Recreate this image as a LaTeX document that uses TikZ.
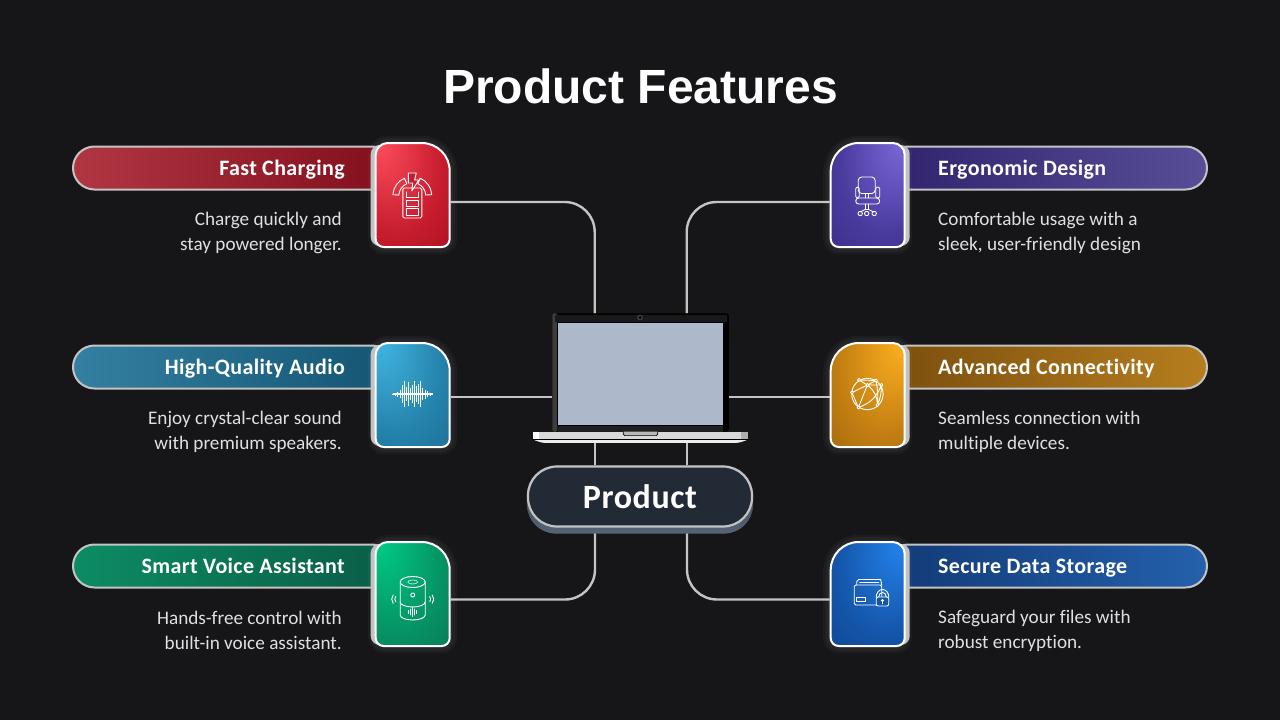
\documentclass[tikz,border=0pt]{standalone}
\usepackage{fontspec}
\setmainfont[Ligatures=NoCommon]{Carlito}
\newfontfamily\headfont[LetterSpace=1.7,Ligatures=NoCommon]{Carlito}
\newfontfamily\titlefont{Liberation Sans}
\usetikzlibrary{positioning,calc}

\definecolor{pagebg}{RGB}{22,21,23}
\definecolor{wirecol}{RGB}{196,196,196}
\definecolor{chargeA}{RGB}{255,78,92}  \definecolor{chargeB}{RGB}{198,28,46}  \definecolor{chargeC}{RGB}{146,8,20}
\definecolor{audioA}{RGB}{66,182,228}  \definecolor{audioB}{RGB}{36,130,170}  \definecolor{audioC}{RGB}{24,92,132}
\definecolor{voiceA}{RGB}{0,204,134}   \definecolor{voiceB}{RGB}{6,146,100}   \definecolor{voiceC}{RGB}{10,100,74}
\definecolor{chairA}{RGB}{124,104,218} \definecolor{chairB}{RGB}{72,58,156}   \definecolor{chairC}{RGB}{46,36,118}
\definecolor{linkA}{RGB}{255,176,32}   \definecolor{linkB}{RGB}{194,126,18}   \definecolor{linkC}{RGB}{134,86,10}
\definecolor{safeA}{RGB}{36,132,238}   \definecolor{safeB}{RGB}{20,86,170}    \definecolor{safeC}{RGB}{14,56,128}
\definecolor{badgecol}{RGB}{34,42,53}
\definecolor{badgeshadeA}{RGB}{50,60,74}
\definecolor{badgeshadeB}{RGB}{86,100,118}
\definecolor{screencol}{RGB}{174,184,203}

\pgfdeclareradialshading{chargeshade}{\pgfpoint{-24bp}{26bp}}{color(0bp)=(chargeA); color(32bp)=(chargeB); color(64bp)=(chargeC)}
\pgfdeclareradialshading{audioshade}{\pgfpoint{-24bp}{26bp}}{color(0bp)=(audioA); color(32bp)=(audioB); color(64bp)=(audioC)}
\pgfdeclareradialshading{voiceshade}{\pgfpoint{-24bp}{26bp}}{color(0bp)=(voiceA); color(32bp)=(voiceB); color(64bp)=(voiceC)}
\pgfdeclareradialshading{chairshade}{\pgfpoint{24bp}{26bp}}{color(0bp)=(chairA); color(32bp)=(chairB); color(64bp)=(chairC)}
\pgfdeclareradialshading{linkshade}{\pgfpoint{24bp}{26bp}}{color(0bp)=(linkA); color(32bp)=(linkB); color(64bp)=(linkC)}
\pgfdeclareradialshading{safeshade}{\pgfpoint{24bp}{26bp}}{color(0bp)=(safeA); color(32bp)=(safeB); color(64bp)=(safeC)}

\pgfdeclarelayer{pagelayer}
\pgfdeclarelayer{wirelayer}
\pgfsetlayers{pagelayer,wirelayer,main}

\tikzset{
  wire/.style={draw=wirecol,line width=2.4pt},
  pill/.style={draw=wirecol,line width=2pt,rounded corners=21.5pt,minimum width=320pt,minimum height=43pt,inner sep=0pt,outer sep=0pt},
  cardspot/.style={minimum width=76pt,minimum height=106pt,inner sep=0pt,outer sep=0pt},
  cardoutline/.style={insert path={(-37,0) [rounded corners=12pt] -- (-37,-52) [rounded corners=28pt] -- (37,-52) [rounded corners=8pt] -- (37,52) -- (-37,52) -- cycle}},
  iconline/.style={draw=white,line width=0.9pt,line join=round,line cap=round},
  headtext/.style={text=white,font=\headfont\fontsize{22}{25}\selectfont\bfseries,inner sep=0pt},
  bodytext/.style={text=white!88!black,font=\fontsize{19.2}{25}\selectfont,inner sep=0pt}
}

\newcommand{\cardbody}[4]{%
  \begin{scope}[shift={(#1,#2)},xscale=#3]
    \foreach \w in {15,10,5}
      \draw[white,opacity=0.03,line width=\w pt,cardoutline];
    \fill[white!76!black,rounded corners=9pt] (-42,-50) rectangle (-15,51);
    \draw[white,line width=2pt,shade,shading=#4,cardoutline];
  \end{scope}}

\begin{document}
\begin{tikzpicture}[x=1pt,y=-1pt]
  \begin{pgfonlayer}{pagelayer}
    \fill[pagebg] (0,0) rectangle (1280,720);
  \end{pgfonlayer}
  \useasboundingbox (0,0) rectangle (1280,720);

  \node[text=white,font=\titlefont\bfseries\fontsize{48}{50}\selectfont] (title) at (640.5,86) {Product Features};

  % left column
  \foreach \nm/\yy/\ttl/\lineA/\lineB/\colA/\colB in {
    charge/168/Fast Charging/Charge quickly and/stay powered longer./{176,54,66}/{130,14,28},
    audio/367/High-Quality Audio/Enjoy crystal-clear sound/with premium speakers./{52,128,162}/{20,84,114},
    voice/566/Smart Voice Assistant/Hands-free control with/built-in voice assistant./{12,140,100}/{10,92,70}}
  {
    \definecolor{pillA}{RGB}{\colA}
    \definecolor{pillB}{RGB}{\colB}
    \node[pill,left color=pillA,right color=pillB] (\nm pill) at (233,\yy) {};
    \node[headtext,anchor=base east] (\nm head) at (345,\yy+7) {\ttl};
    \node[bodytext,anchor=east,align=right] (\nm text) at (342,\yy+64.8) {\lineA\\\lineB};
  }

  % right column
  \foreach \nm/\yy/\ttl/\lineA/\lineB/\colA/\colB in {
    chair/168/Ergonomic Design/Comfortable usage with a/{sleek, user-friendly design}/{48,34,108}/{88,78,152},
    link/367/Advanced Connectivity/Seamless connection with/multiple devices./{122,78,14}/{182,126,30},
    safe/566/Secure Data Storage/Safeguard your files with/robust encryption./{18,58,118}/{36,96,172}}
  {
    \definecolor{pillA}{RGB}{\colA}
    \definecolor{pillB}{RGB}{\colB}
    \node[pill,left color=pillA,right color=pillB] (\nm pill) at (1047,\yy) {};
    \node[headtext,anchor=base west] (\nm head) at (938,\yy+7) {\ttl};
    \node[bodytext,anchor=west,align=left] (\nm text) at (938,\yy+65) {\lineA\\\lineB};
  }

  % cards
  \node[cardspot] (charge) at (412.7,195) {};
  \node[cardspot] (audio) at (412.7,395) {};
  \node[cardspot] (voice) at (412.7,594) {};
  \node[cardspot] (chair) at (867.7,195) {};
  \node[cardspot] (link) at (867.7,395) {};
  \node[cardspot] (safe) at (867.7,594) {};
  \cardbody{412.7}{195}{1}{chargeshade}
  \cardbody{412.7}{395}{1}{audioshade}
  \cardbody{412.7}{594}{1}{voiceshade}
  \cardbody{867.7}{195}{-1}{chairshade}
  \cardbody{867.7}{395}{-1}{linkshade}
  \cardbody{867.7}{594}{-1}{safeshade}

  % charging icon
  \begin{scope}[shift={(412.3,196)}]
    \draw[iconline,rounded corners=1.5pt] (-9.5,-8) rectangle (9.5,22);
    \draw[iconline] (-6,-4) -- (-6,1) -- (6,1) -- (6,-4);
    \draw[iconline] (-6,4) rectangle (6,10);
    \draw[iconline] (-6,12.5) rectangle (6,19.5);
    \foreach \s in {1,-1}
      \draw[iconline,xscale=\s] (-176:19.5) arc (-176:-114:19.5) -- (-114:13.5) arc (-114:-176:13.5) -- cycle;
    \draw[iconline,fill=chargeB] (-4,-23) -- (4,-23) -- (2.3,-16) -- (6.5,-16) -- (-0.5,-5) -- (0.5,-13) -- (-4,-13) -- cycle;
  \end{scope}

  % waveform icon
  \begin{scope}[shift={(412.7,394)}]
    \foreach \dx/\hh in {-20/0.5,-17.5/1.5,-15/2.5,-12.5/4,-10/9,-8/13,-6/7,-4/12,-2/6,0/9,2/13,4/8,6/10,8/13,10/6,12.5/4.5,15/3,17.5/1.5,20/0.5}
      \draw[white,line width=1.1pt] (\dx,-\hh) -- (\dx,\hh);
    \draw[white,line width=1.1pt] (-20,0) -- (20,0);
  \end{scope}

  % speaker icon
  \begin{scope}[shift={(412.7,594)}]
    \draw[iconline] (0,-12) ellipse (12.5 and 5.5);
    \draw[iconline] (-12.5,-12) -- (-12.5,21) arc (-180:-360:12.5 and 5) -- (12.5,-12);
    \draw[iconline] (-12.5,8) arc (-180:-360:12.5 and 5);
    \draw[iconline] (0,1) circle (2);
    \draw[iconline,opacity=0.7,dash pattern=on 1pt off 1pt] (0,-12) ellipse (5 and 2);
    \foreach \dx/\hh in {-4/1.5,-2/3,0/4.5,2/3,4/1.5}
      \draw[iconline] (\dx,18-\hh) -- (\dx,18+\hh);
    \foreach \s in {1,-1} {
      \begin{scope}[xscale=\s]
        \draw[iconline] (17,2.5) arc (-40:40:4);
        \draw[iconline] (19.5,1) arc (-40:40:6.5);
      \end{scope}
    }
  \end{scope}

  % chair icon
  \begin{scope}[shift={(867.7,195)}]
    \draw[iconline,rounded corners=3.5pt] (-9.5,-18) rectangle (7.5,-1.5);
    \draw[iconline] (-2.5,-1.5) -- (-2.5,3) (1,-1.5) -- (1,3);
    \draw[iconline,rounded corners=3pt] (-12,3) rectangle (12,9);
    \draw[iconline,rounded corners=1.5pt] (-12,-8) rectangle (-8.5,3);
    \draw[iconline,rounded corners=1.5pt] (8,-8) rectangle (12,3);
    \draw[iconline] (-2.5,9) -- (-2.5,14.5) (1,9) -- (1,14.5);
    \draw[iconline] (-7.5,17) -- (-2.5,14.5) -- (1,14.5) -- (6,17);
    \foreach \dx in {-7.5,-1,6.5}
      \draw[iconline] (\dx,18.5) circle (2.2);
  \end{scope}

  % globe icon
  \begin{scope}[shift={(867.4,394)}]
    \draw[iconline] (0,0) circle (15.7);
    \coordinate (g1) at (-8.5,-14);
    \coordinate (g2) at (8.5,-13.5);
    \coordinate (g3) at (0,-9);
    \coordinate (g4) at (-15.5,-1.5);
    \coordinate (g5) at (14,-9);
    \coordinate (g6) at (-9,13.5);
    \coordinate (g8) at (10,11);
    \draw[iconline] (g1) -- (g2) -- (g3) -- (g1) (g4) -- (g3) -- (g5) (g3) -- (g6) (g4) -- (g6);
    \draw[iconline] (g5) to[bend left=12] (g8) (g2) to[bend left=8] (g8) (g6) to[bend right=25] (g5) (g3) to[bend left=25] (g8);
    \foreach \g in {g1,g2,g3,g4,g5,g6,g8}
      \draw[iconline,fill=linkB] (\g) circle (1.5);
  \end{scope}

  % folder icon
  \begin{scope}[shift={(867.7,594)}]
    \draw[iconline,rounded corners=1.5pt] (-13.5,11) -- (-13.5,-9) -- (14,-9) -- (14,11) -- cycle;
    \draw[iconline] (-11,-9) -- (-11,-12.5) -- (-9,-14.5) -- (13,-14.5) -- (14,-9);
    \draw[iconline] (-8,-12) -- (11,-12);
    \draw[iconline] (-11,3.5) rectangle (-2,7);
    \draw[iconline,fill=safeB,rounded corners=2pt] (8.5,3) rectangle (21,12);
    \draw[iconline] (11,3) arc (-180:0:3.8 and 4.5);
    \draw[iconline] (8.5,3) arc (-180:0:6.3 and 7.5);
    \fill[white] (14.8,6.5) circle (1.6);
    \draw[iconline] (14.8,6.5) -- (14.8,10);
  \end{scope}

  % laptop
  \node[minimum width=176.5pt,minimum height=118.5pt,fill=black,rounded corners=3pt,inner sep=0pt,outer sep=0pt] (lid) at (640.7,372.5) {};
  \fill[white!24!black,rounded corners=2pt] (lid.north west) rectangle ([xshift=5pt]lid.south west);
  \fill[white!10!black] ([xshift=3pt,yshift=-1.5pt]lid.north west) rectangle ([xshift=-2pt,yshift=-9pt]lid.north east);
  \node[fill=white!24!black,circle,inner sep=0pt,minimum size=6pt] (camera) at (640,317.5) {};
  \fill[black] (camera) circle (1.5);
  \node[draw=black,line width=0.8pt,fill=screencol,minimum width=165.5pt,minimum height=102.5pt,inner sep=0pt] (screen) at (640.3,373.8) {};
  \fill[white!12!black] (558,425.6) rectangle (723,431.7);
  \node[fill=white!85!black,minimum width=215.5pt,minimum height=11.5pt,inner sep=0pt,outer sep=0pt] (base) at (640.5,437.5) {};
  \fill[white] (532.7,431.7) rectangle (539,439.4);
  \fill[white!68!black] (741,431.7) rectangle (748.2,439.4);
  \fill[white!93!black] (533,439.4) rectangle (748,443.3);
  \fill[pagebg] (532,439.4) -- (532,443.6) -- (552,443.6) .. controls (540,443.2) and (536,441) .. (533,439.4) -- cycle;
  \fill[pagebg] (749,439.4) -- (749,443.6) -- (729,443.6) .. controls (741,443.2) and (745,441) .. (748,439.4) -- cycle;
  \draw[black,line width=0.6pt] (532.7,439.4) -- (748.2,439.4);
  \draw[black,line width=0.7pt,fill=white!72!black,rounded corners=1.5pt] (623.3,431.7) -- (623.3,435.6) -- (657.7,435.6) -- (657.7,431.7);

  % product badge
  \node[draw=white!76!black,line width=2.2pt,fill=badgecol,rounded corners=29pt,minimum width=224pt,minimum height=60pt,inner sep=0pt,text=white,font=\headfont\fontsize{34}{36}\selectfont\bfseries] (product) at (640,496.5) {Product};

  \begin{pgfonlayer}{wirelayer}
    \draw[wire,rounded corners=30pt] ([yshift=-7pt]charge.east) -| ([xshift=-46pt]lid.north);
    \draw[wire,rounded corners=30pt] ([yshift=-7pt]chair.west) -| ([xshift=46pt]lid.north);
    \draw[wire] ([yshift=-2pt]audio.east) -- ([yshift=-24.5pt]lid.west);
    \draw[wire] ([yshift=-2pt]link.west) -- ([yshift=-24.5pt]lid.east);
    \draw[wire,rounded corners=30pt] ([yshift=-5.5pt]voice.east) -| ([xshift=-45pt]product.south);
    \draw[wire,rounded corners=30pt] ([yshift=-5.5pt]safe.west) -| ([xshift=47pt]product.south);
    \draw[wire] ([xshift=-45.5pt]base.south) -- ([xshift=-45pt]product.north);
    \draw[wire] ([xshift=46.5pt]base.south) -- ([xshift=47pt]product.north);
    \shade[top color=badgeshadeA,bottom color=badgeshadeB,rounded corners=29pt] (product.north west) rectangle ([yshift=-6pt]product.south east);
  \end{pgfonlayer}
\end{tikzpicture}
\end{document}
